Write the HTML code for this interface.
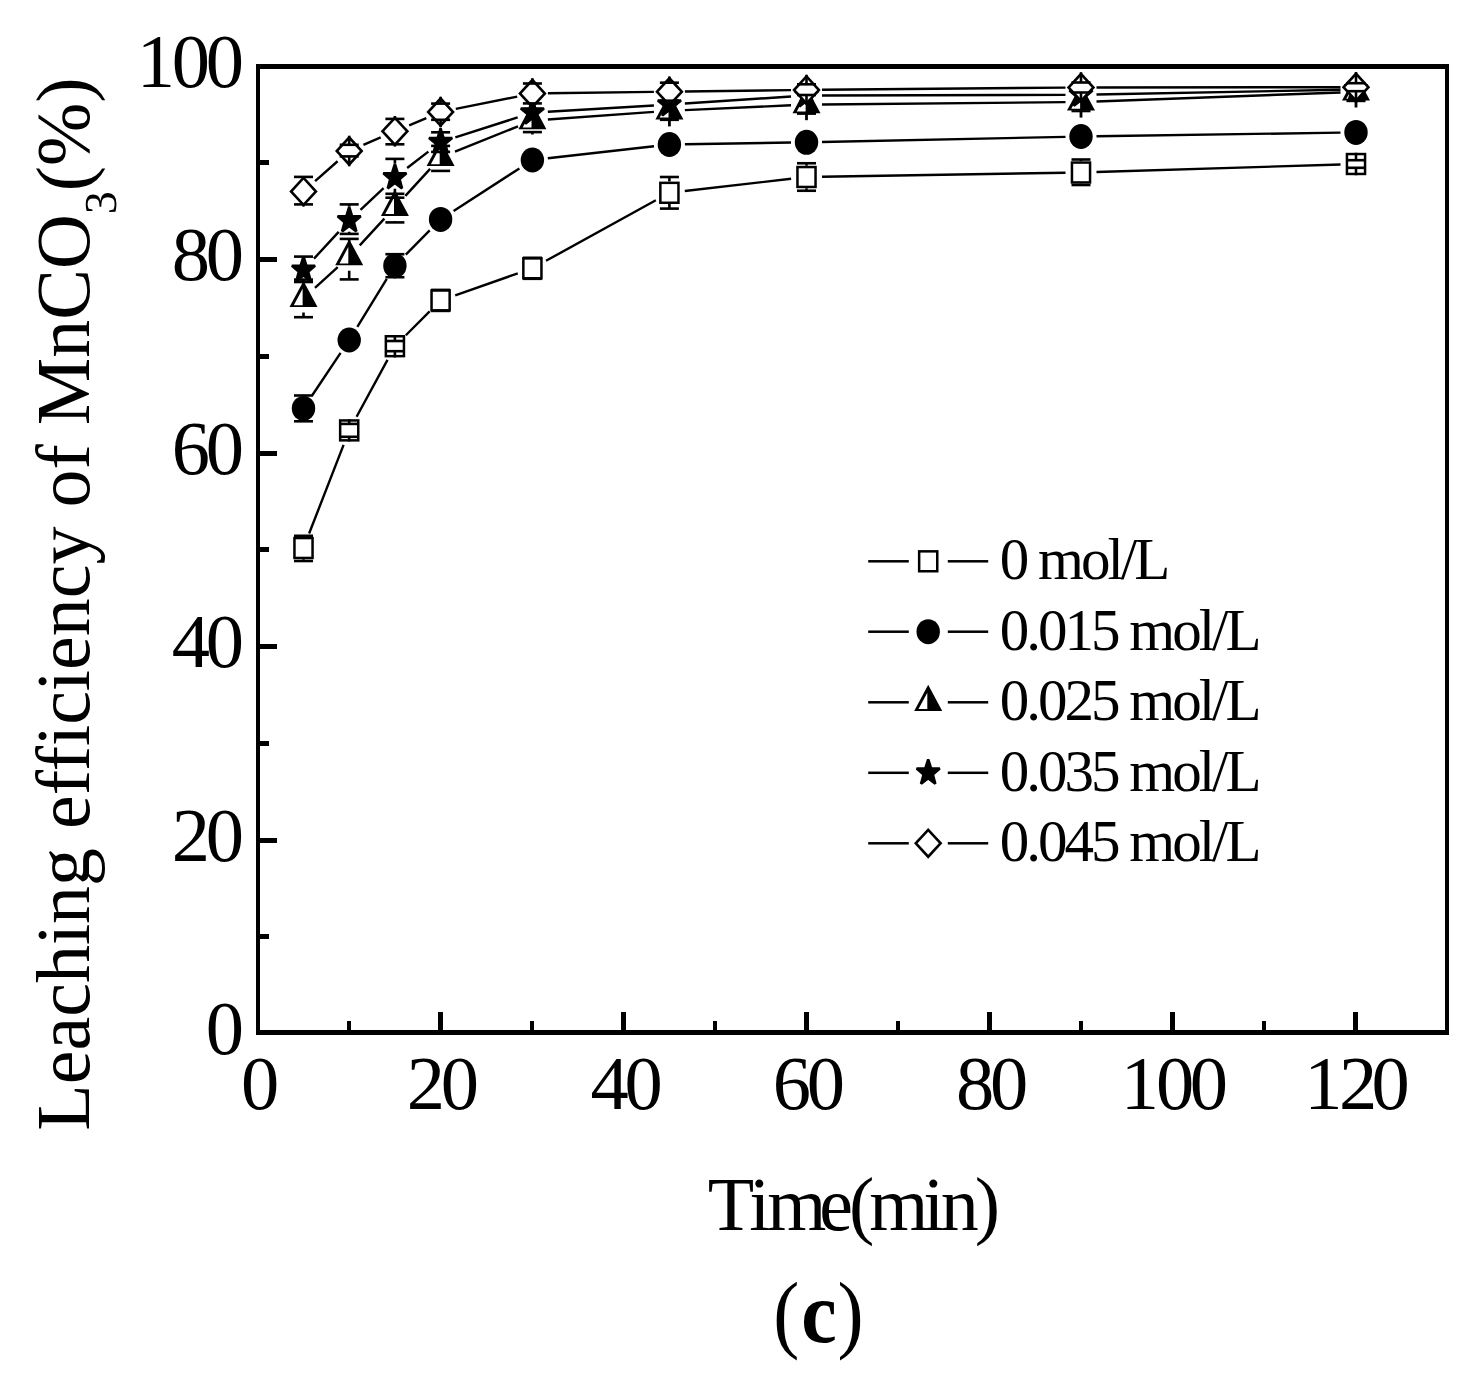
<!DOCTYPE html>
<html><head><meta charset="utf-8"><title>Leaching efficiency chart</title>
<style>html,body{margin:0;padding:0;background:#fff;}svg{display:block;}</style></head>
<body><svg width="1474" height="1382" viewBox="0 0 1474 1382">
<rect width="1474" height="1382" fill="#fff"/>
<g fill="#000" shape-rendering="crispEdges">
<rect x="256" y="64" width="1193" height="5"/>
<rect x="256" y="1030" width="1193" height="5"/>
<rect x="256" y="64" width="4" height="971"/>
<rect x="1445" y="64" width="4" height="971"/>
<rect x="260" y="934.2" width="8.5" height="5"/>
<rect x="260" y="837.5" width="17" height="5"/>
<rect x="260" y="740.8" width="8.5" height="5"/>
<rect x="260" y="644.0" width="17" height="5"/>
<rect x="260" y="547.2" width="8.5" height="5"/>
<rect x="260" y="450.5" width="17" height="5"/>
<rect x="260" y="353.8" width="8.5" height="5"/>
<rect x="260" y="257.0" width="17" height="5"/>
<rect x="260" y="160.2" width="8.5" height="5"/>
<rect x="346.8" y="1021" width="4.5" height="9"/>
<rect x="438.2" y="1012" width="4.5" height="18"/>
<rect x="529.8" y="1021" width="4.5" height="9"/>
<rect x="621.2" y="1012" width="4.5" height="18"/>
<rect x="712.8" y="1021" width="4.5" height="9"/>
<rect x="804.2" y="1012" width="4.5" height="18"/>
<rect x="895.8" y="1021" width="4.5" height="9"/>
<rect x="987.2" y="1012" width="4.5" height="18"/>
<rect x="1078.8" y="1021" width="4.5" height="9"/>
<rect x="1170.2" y="1012" width="4.5" height="18"/>
<rect x="1261.8" y="1021" width="4.5" height="9"/>
<rect x="1353.2" y="1012" width="4.5" height="18"/>
</g>
<g font-family="'Liberation Serif', serif" fill="#000">
<text x="205.63" y="1054.10" font-size="76.5" letter-spacing="-4.25">0</text>
<text x="171.63" y="860.60" font-size="76.5" letter-spacing="-4.25">20</text>
<text x="171.63" y="667.10" font-size="76.5" letter-spacing="-4.25">40</text>
<text x="171.63" y="473.60" font-size="76.5" letter-spacing="-4.25">60</text>
<text x="171.63" y="280.10" font-size="76.5" letter-spacing="-4.25">80</text>
<text x="136.79 171.81 205.86" y="86.60" font-size="76.5">100</text>
<text x="240.91" y="1109.30" font-size="76.5" letter-spacing="-4.25">0</text>
<text x="406.68" y="1109.30" font-size="76.5" letter-spacing="-4.25">20</text>
<text x="590.60" y="1109.30" font-size="76.5" letter-spacing="-4.25">40</text>
<text x="772.72" y="1109.30" font-size="76.5" letter-spacing="-4.25">60</text>
<text x="955.91" y="1109.30" font-size="76.5" letter-spacing="-4.25">80</text>
<text x="1120.84 1156.11 1189.81" y="1109.30" font-size="76.5">100</text>
<text x="1304.14 1338.93 1371.61" y="1109.30" font-size="76.5">120</text>
<text x="707.73 749.35 767.13 819.16 848.88 869.18 923.30 940.68 974.69" y="1229.70" font-size="76">Time(min)</text>
<text transform="translate(773.26,1342.20) scale(0.91,1)" x="0" y="0" font-size="86" font-weight="normal">(</text>
<text transform="translate(801.28,1342.20) scale(0.93,1)" x="0" y="0" font-size="86" font-weight="bold">c</text>
<text transform="translate(837.46,1342.20) scale(0.91,1)" x="0" y="0" font-size="86" font-weight="normal">)</text>
</g>
<g font-family="'Liberation Serif', serif" fill="#000">
<text transform="translate(89,1130.7) rotate(-90)" x="0" y="0" font-size="76">Leaching efficiency of MnCO<tspan dx="22.85">(%)</tspan></text>
<path transform="translate(89,1130.7) rotate(-90) translate(916.6,27) scale(0.022314,-0.022314)" d="M944 365Q944 184 820.0 82.0Q696 -20 469 -20Q279 -20 109 23L98 305H164L209 117Q248 95 319.5 79.0Q391 63 453 63Q610 63 685.0 135.0Q760 207 760 375Q760 507 691.0 575.5Q622 644 477 651L334 659V741L477 750Q590 756 644.0 820.0Q698 884 698 1014Q698 1149 639.5 1210.5Q581 1272 453 1272Q400 1272 342.0 1257.5Q284 1243 240 1219L205 1055H139V1313Q238 1339 310.0 1347.5Q382 1356 453 1356Q883 1356 883 1026Q883 887 806.5 804.5Q730 722 590 702Q772 681 858.0 597.5Q944 514 944 365Z" fill="#000"/>
</g>
<g>
<path d="M309.11 533.55L343.59 444.85M356.59 416.78L387.51 359.82M405.85 335.23L429.65 311.37M455.23 295.28L517.77 273.42M545.98 260.82L655.82 200.28M684.80 191.03L791.10 178.77M822.00 176.75L1065.50 172.75M1096.49 172.02L1340.51 164.48" stroke="#000" stroke-width="2.4" fill="none"/>
<rect x="294.45" y="538.05" width="18.10" height="19.90" fill="#fff" stroke="#000" stroke-width="2.5"/>
<rect x="340.15" y="420.45" width="18.10" height="19.90" fill="#fff" stroke="#000" stroke-width="2.5"/>
<rect x="385.85" y="336.25" width="18.10" height="19.90" fill="#fff" stroke="#000" stroke-width="2.5"/>
<rect x="431.55" y="290.45" width="18.10" height="19.90" fill="#fff" stroke="#000" stroke-width="2.5"/>
<rect x="523.35" y="258.35" width="18.10" height="19.90" fill="#fff" stroke="#000" stroke-width="2.5"/>
<rect x="660.35" y="182.85" width="18.10" height="19.90" fill="#fff" stroke="#000" stroke-width="2.5"/>
<rect x="797.45" y="167.05" width="18.10" height="19.90" fill="#fff" stroke="#000" stroke-width="2.5"/>
<rect x="1071.95" y="162.55" width="18.10" height="19.90" fill="#fff" stroke="#000" stroke-width="2.5"/>
<rect x="1346.95" y="154.05" width="18.10" height="19.90" fill="#fff" stroke="#000" stroke-width="2.5"/>
<path d="M303.50 536.80L303.50 535.80M303.50 559.20L303.50 561.00" stroke="#000" stroke-width="2.6" fill="none"/>
<rect x="294.00" y="534.50" width="19" height="2.6" fill="#000"/>
<rect x="294.00" y="559.70" width="19" height="2.6" fill="#000"/>
<path d="M349.20 419.20L349.20 423.90M349.20 441.60L349.20 436.80" stroke="#000" stroke-width="2.6" fill="none"/>
<rect x="339.70" y="422.60" width="19" height="2.6" fill="#000"/>
<rect x="339.70" y="435.50" width="19" height="2.6" fill="#000"/>
<path d="M394.90 335.00L394.90 341.00M394.90 357.40L394.90 351.20" stroke="#000" stroke-width="2.6" fill="none"/>
<rect x="385.40" y="339.70" width="19" height="2.6" fill="#000"/>
<rect x="385.40" y="349.90" width="19" height="2.6" fill="#000"/>
<path d="M440.60 289.20L440.60 289.90M440.60 311.60L440.60 310.90" stroke="#000" stroke-width="2.6" fill="none"/>
<rect x="431.10" y="288.60" width="19" height="2.6" fill="#000"/>
<rect x="431.10" y="309.60" width="19" height="2.6" fill="#000"/>
<path d="M532.40 257.10L532.40 257.80M532.40 279.50L532.40 278.80" stroke="#000" stroke-width="2.6" fill="none"/>
<rect x="522.90" y="256.50" width="19" height="2.6" fill="#000"/>
<rect x="522.90" y="277.50" width="19" height="2.6" fill="#000"/>
<path d="M669.40 181.60L669.40 177.00M669.40 204.00L669.40 208.60" stroke="#000" stroke-width="2.6" fill="none"/>
<rect x="659.90" y="175.70" width="19" height="2.6" fill="#000"/>
<rect x="659.90" y="207.30" width="19" height="2.6" fill="#000"/>
<path d="M806.50 165.80L806.50 163.25M806.50 188.20L806.50 190.75" stroke="#000" stroke-width="2.6" fill="none"/>
<rect x="797.00" y="161.95" width="19" height="2.6" fill="#000"/>
<rect x="797.00" y="189.45" width="19" height="2.6" fill="#000"/>
<path d="M1081.00 161.30L1081.00 159.50M1081.00 183.70L1081.00 185.00" stroke="#000" stroke-width="2.6" fill="none"/>
<rect x="1071.50" y="158.20" width="19" height="2.6" fill="#000"/>
<rect x="1071.50" y="183.70" width="19" height="2.6" fill="#000"/>
<path d="M1356.00 152.80L1356.00 160.20M1356.00 175.20L1356.00 167.80" stroke="#000" stroke-width="2.6" fill="none"/>
<rect x="1346.50" y="158.90" width="19" height="2.6" fill="#000"/>
<rect x="1346.50" y="166.50" width="19" height="2.6" fill="#000"/>
<path d="M312.11 395.51L340.59 352.89M357.32 326.80L386.78 278.90M405.79 254.67L429.71 230.43M453.61 210.98L519.39 168.42M547.80 158.26L654.00 146.24M684.90 144.25L791.00 142.55M822.00 141.97L1065.50 136.83M1096.50 136.27L1340.50 132.63" stroke="#000" stroke-width="2.4" fill="none"/>
<ellipse cx="303.50" cy="408.40" rx="11.7" ry="12.5" fill="#000"/>
<ellipse cx="349.20" cy="340.00" rx="11.7" ry="12.5" fill="#000"/>
<ellipse cx="394.90" cy="265.70" rx="11.7" ry="12.5" fill="#000"/>
<ellipse cx="440.60" cy="219.40" rx="11.7" ry="12.5" fill="#000"/>
<ellipse cx="532.40" cy="160.00" rx="11.7" ry="12.5" fill="#000"/>
<ellipse cx="669.40" cy="144.50" rx="11.7" ry="12.5" fill="#000"/>
<ellipse cx="806.50" cy="142.30" rx="11.7" ry="12.5" fill="#000"/>
<ellipse cx="1081.00" cy="136.50" rx="11.7" ry="12.5" fill="#000"/>
<ellipse cx="1356.00" cy="132.40" rx="11.7" ry="12.5" fill="#000"/>
<path d="M303.50 395.90L303.50 395.50M303.50 420.90L303.50 421.30" stroke="#000" stroke-width="2.6" fill="none"/>
<rect x="294.00" y="394.20" width="19" height="2.6" fill="#000"/>
<rect x="294.00" y="420.00" width="19" height="2.6" fill="#000"/>
<path d="M394.90 253.20L394.90 254.20M394.90 278.20L394.90 277.20" stroke="#000" stroke-width="2.6" fill="none"/>
<rect x="385.40" y="252.90" width="19" height="2.6" fill="#000"/>
<rect x="385.40" y="275.90" width="19" height="2.6" fill="#000"/>
<path d="M314.95 287.95L337.75 267.15M359.73 245.32L384.37 218.68M405.37 195.87L430.13 168.83M454.99 151.63L518.01 126.37M547.86 119.49L653.94 111.91M684.88 110.10L791.02 105.30M822.00 104.45L1065.50 102.15M1096.49 101.43L1340.51 92.47" stroke="#000" stroke-width="2.4" fill="none"/>
<path d="M303.50 280.90L317.50 307.00L289.50 307.00Z" fill="#000"/>
<path d="M302.60 288.80L302.60 305.20L293.80 305.20Z" fill="#fff"/>
<path d="M349.20 239.20L363.20 265.30L335.20 265.30Z" fill="#000"/>
<path d="M348.30 247.10L348.30 263.50L339.50 263.50Z" fill="#fff"/>
<path d="M394.90 189.80L408.90 215.90L380.90 215.90Z" fill="#000"/>
<path d="M394.00 197.70L394.00 214.10L385.20 214.10Z" fill="#fff"/>
<path d="M440.60 139.90L454.60 166.00L426.60 166.00Z" fill="#000"/>
<path d="M439.70 147.80L439.70 164.20L430.90 164.20Z" fill="#fff"/>
<path d="M532.40 103.10L546.40 129.20L518.40 129.20Z" fill="#000"/>
<path d="M531.50 111.00L531.50 127.40L522.70 127.40Z" fill="#fff"/>
<path d="M669.40 93.30L683.40 119.40L655.40 119.40Z" fill="#000"/>
<path d="M668.50 101.20L668.50 117.60L659.70 117.60Z" fill="#fff"/>
<path d="M806.50 87.10L820.50 113.20L792.50 113.20Z" fill="#000"/>
<path d="M805.60 95.00L805.60 111.40L796.80 111.40Z" fill="#fff"/>
<path d="M1081.00 84.50L1095.00 110.60L1067.00 110.60Z" fill="#000"/>
<path d="M1080.10 92.40L1080.10 108.80L1071.30 108.80Z" fill="#fff"/>
<path d="M1356.00 74.40L1370.00 100.50L1342.00 100.50Z" fill="#000"/>
<path d="M1355.10 82.30L1355.10 98.70L1346.30 98.70Z" fill="#fff"/>
<path d="M303.50 284.40L303.50 279.60M303.50 312.40L303.50 317.20" stroke="#000" stroke-width="2.6" fill="none"/>
<rect x="294.00" y="278.30" width="19" height="2.6" fill="#000"/>
<rect x="294.00" y="315.90" width="19" height="2.6" fill="#000"/>
<path d="M349.20 242.70L349.20 238.90M349.20 270.70L349.20 279.40" stroke="#000" stroke-width="2.6" fill="none"/>
<rect x="339.70" y="237.60" width="19" height="2.6" fill="#000"/>
<rect x="339.70" y="278.10" width="19" height="2.6" fill="#000"/>
<path d="M394.90 193.30L394.90 197.70M394.90 221.30L394.90 222.40" stroke="#000" stroke-width="2.6" fill="none"/>
<rect x="385.40" y="196.40" width="19" height="2.6" fill="#000"/>
<rect x="385.40" y="221.10" width="19" height="2.6" fill="#000"/>
<path d="M440.60 143.40L440.60 145.90M440.60 171.40L440.60 170.90" stroke="#000" stroke-width="2.6" fill="none"/>
<rect x="431.10" y="144.60" width="19" height="2.6" fill="#000"/>
<rect x="431.10" y="169.60" width="19" height="2.6" fill="#000"/>
<path d="M532.40 106.60L532.40 109.10M532.40 134.60L532.40 132.10" stroke="#000" stroke-width="2.6" fill="none"/>
<rect x="522.90" y="107.80" width="19" height="2.6" fill="#000"/>
<rect x="522.90" y="130.80" width="19" height="2.6" fill="#000"/>
<rect x="659.90" y="118.90" width="19" height="2.2" fill="#000"/>
<rect x="668.00" y="119.40" width="2.8" height="7" fill="#000"/>
<rect x="797.00" y="112.70" width="19" height="2.2" fill="#000"/>
<rect x="805.10" y="113.20" width="2.8" height="7" fill="#000"/>
<rect x="1071.50" y="110.10" width="19" height="2.2" fill="#000"/>
<rect x="1079.60" y="110.60" width="2.8" height="7" fill="#000"/>
<rect x="1346.50" y="100.00" width="19" height="2.2" fill="#000"/>
<rect x="1354.60" y="100.50" width="2.8" height="7" fill="#000"/>
<path d="M314.01 258.61L338.69 231.89M360.49 209.88L383.61 188.12M407.15 168.01L428.35 151.59M455.36 137.37L517.64 117.43M547.87 111.79L653.93 105.51M684.87 103.57L791.03 96.53M822.00 95.46L1065.50 94.84M1096.50 94.50L1340.50 89.80" stroke="#000" stroke-width="2.4" fill="none"/>
<polygon points="303.50,256.50 306.36,265.63 315.06,265.83 308.12,271.67 310.64,280.92 303.50,275.40 296.36,280.92 298.88,271.67 291.94,265.83 300.64,265.63" fill="#000" stroke="#000" stroke-width="2.6" stroke-linejoin="bevel"/>
<polygon points="349.20,207.00 352.06,216.13 360.76,216.33 353.82,222.17 356.34,231.42 349.20,225.90 342.06,231.42 344.58,222.17 337.64,216.33 346.34,216.13" fill="#000" stroke="#000" stroke-width="2.6" stroke-linejoin="bevel"/>
<polygon points="394.90,164.00 397.76,173.13 406.46,173.33 399.52,179.17 402.04,188.42 394.90,182.90 387.76,188.42 390.28,179.17 383.34,173.33 392.04,173.13" fill="#000" stroke="#000" stroke-width="2.6" stroke-linejoin="bevel"/>
<polygon points="440.60,128.60 443.46,137.73 452.16,137.93 445.22,143.77 447.74,153.02 440.60,147.50 433.46,153.02 435.98,143.77 429.04,137.93 437.74,137.73" fill="#000" stroke="#000" stroke-width="2.6" stroke-linejoin="bevel"/>
<polygon points="532.40,99.20 535.26,108.33 543.96,108.53 537.02,114.37 539.54,123.62 532.40,118.10 525.26,123.62 527.78,114.37 520.84,108.53 529.54,108.33" fill="#000" stroke="#000" stroke-width="2.6" stroke-linejoin="bevel"/>
<polygon points="669.40,91.10 672.26,100.23 680.96,100.43 674.02,106.27 676.54,115.52 669.40,110.00 662.26,115.52 664.78,106.27 657.84,100.43 666.54,100.23" fill="#000" stroke="#000" stroke-width="2.6" stroke-linejoin="bevel"/>
<polygon points="806.50,82.00 809.36,91.13 818.06,91.33 811.12,97.17 813.64,106.42 806.50,100.90 799.36,106.42 801.88,97.17 794.94,91.33 803.64,91.13" fill="#000" stroke="#000" stroke-width="2.6" stroke-linejoin="bevel"/>
<polygon points="1081.00,81.30 1083.86,90.43 1092.56,90.63 1085.62,96.47 1088.14,105.72 1081.00,100.20 1073.86,105.72 1076.38,96.47 1069.44,90.63 1078.14,90.43" fill="#000" stroke="#000" stroke-width="2.6" stroke-linejoin="bevel"/>
<polygon points="1356.00,76.00 1358.86,85.13 1367.56,85.33 1360.62,91.17 1363.14,100.42 1356.00,94.90 1348.86,100.42 1351.38,91.17 1344.44,85.33 1353.14,85.13" fill="#000" stroke="#000" stroke-width="2.6" stroke-linejoin="bevel"/>
<path d="M303.50 256.00L303.50 256.60M303.50 281.30L303.50 282.00" stroke="#000" stroke-width="2.6" fill="none"/>
<rect x="294.00" y="255.30" width="19" height="2.6" fill="#000"/>
<rect x="294.00" y="280.70" width="19" height="2.6" fill="#000"/>
<path d="M349.20 206.50L349.20 204.40M349.20 231.80L349.20 233.90" stroke="#000" stroke-width="2.6" fill="none"/>
<rect x="339.70" y="203.10" width="19" height="2.6" fill="#000"/>
<rect x="339.70" y="232.60" width="19" height="2.6" fill="#000"/>
<path d="M394.90 163.50L394.90 158.90M394.90 188.80L394.90 193.80" stroke="#000" stroke-width="2.6" fill="none"/>
<rect x="385.40" y="157.60" width="19" height="2.6" fill="#000"/>
<rect x="385.40" y="192.50" width="19" height="2.6" fill="#000"/>
<path d="M440.60 128.10L440.60 132.30M440.60 153.40L440.60 151.90" stroke="#000" stroke-width="2.6" fill="none"/>
<rect x="431.10" y="131.00" width="19" height="2.6" fill="#000"/>
<rect x="431.10" y="150.60" width="19" height="2.6" fill="#000"/>
<path d="M315.11 181.13L337.59 161.27M363.43 144.86L380.67 137.44M409.18 125.27L426.32 118.03M455.79 108.94L517.21 96.56M547.90 93.30L653.90 91.90M684.90 91.50L791.00 90.10M822.00 89.76L1065.50 87.64M1096.50 87.48L1340.50 87.22" stroke="#000" stroke-width="2.4" fill="none"/>
<path d="M303.50 176.00L317.70 191.40L303.50 206.80L289.30 191.40Z" fill="#000"/>
<path d="M303.50 179.85L314.15 191.40L303.50 202.95L292.85 191.40Z" fill="#fff"/>
<path d="M349.20 135.60L363.40 151.00L349.20 166.40L335.00 151.00Z" fill="#000"/>
<path d="M349.20 139.45L359.85 151.00L349.20 162.55L338.55 151.00Z" fill="#fff"/>
<path d="M394.90 115.90L409.10 131.30L394.90 146.70L380.70 131.30Z" fill="#000"/>
<path d="M394.90 119.75L405.55 131.30L394.90 142.85L384.25 131.30Z" fill="#fff"/>
<path d="M440.60 96.60L454.80 112.00L440.60 127.40L426.40 112.00Z" fill="#000"/>
<path d="M440.60 100.45L451.25 112.00L440.60 123.55L429.95 112.00Z" fill="#fff"/>
<path d="M532.40 78.10L546.60 93.50L532.40 108.90L518.20 93.50Z" fill="#000"/>
<path d="M532.40 81.95L543.05 93.50L532.40 105.05L521.75 93.50Z" fill="#fff"/>
<path d="M669.40 76.30L683.60 91.70L669.40 107.10L655.20 91.70Z" fill="#000"/>
<path d="M669.40 80.15L680.05 91.70L669.40 103.25L658.75 91.70Z" fill="#fff"/>
<path d="M806.50 74.50L820.70 89.90L806.50 105.30L792.30 89.90Z" fill="#000"/>
<path d="M806.50 78.35L817.15 89.90L806.50 101.45L795.85 89.90Z" fill="#fff"/>
<path d="M1081.00 72.10L1095.20 87.50L1081.00 102.90L1066.80 87.50Z" fill="#000"/>
<path d="M1081.00 75.95L1091.65 87.50L1081.00 99.05L1070.35 87.50Z" fill="#fff"/>
<path d="M1356.00 71.80L1370.20 87.20L1356.00 102.60L1341.80 87.20Z" fill="#000"/>
<path d="M1356.00 75.65L1366.65 87.20L1356.00 98.75L1345.35 87.20Z" fill="#fff"/>
<path d="M303.50 176.20L303.50 176.90M303.50 206.60L303.50 204.40" stroke="#000" stroke-width="2.6" fill="none"/>
<rect x="294.00" y="175.60" width="19" height="2.6" fill="#000"/>
<rect x="294.00" y="203.10" width="19" height="2.6" fill="#000"/>
<path d="M349.20 135.80L349.20 144.80M349.20 166.20L349.20 156.40" stroke="#000" stroke-width="2.6" fill="none"/>
<rect x="339.70" y="143.50" width="19" height="2.6" fill="#000"/>
<rect x="339.70" y="155.10" width="19" height="2.6" fill="#000"/>
<path d="M394.90 116.10L394.90 118.90M394.90 146.50L394.90 144.30" stroke="#000" stroke-width="2.6" fill="none"/>
<rect x="385.40" y="117.60" width="19" height="2.6" fill="#000"/>
<rect x="385.40" y="143.00" width="19" height="2.6" fill="#000"/>
<path d="M440.60 96.80L440.60 103.60M440.60 127.20L440.60 119.80" stroke="#000" stroke-width="2.6" fill="none"/>
<rect x="431.10" y="102.30" width="19" height="2.6" fill="#000"/>
<rect x="431.10" y="118.50" width="19" height="2.6" fill="#000"/>
<path d="M532.40 78.30L532.40 83.50M532.40 108.70L532.40 103.40" stroke="#000" stroke-width="2.6" fill="none"/>
<rect x="522.90" y="82.20" width="19" height="2.6" fill="#000"/>
<rect x="522.90" y="102.10" width="19" height="2.6" fill="#000"/>
<path d="M669.40 76.50L669.40 82.70M669.40 106.90L669.40 100.70" stroke="#000" stroke-width="2.6" fill="none"/>
<rect x="659.90" y="81.40" width="19" height="2.6" fill="#000"/>
<rect x="659.90" y="99.40" width="19" height="2.6" fill="#000"/>
<path d="M806.50 74.70L806.50 84.30M806.50 105.10L806.50 95.00" stroke="#000" stroke-width="2.6" fill="none"/>
<rect x="797.00" y="83.00" width="19" height="2.6" fill="#000"/>
<rect x="797.00" y="93.70" width="19" height="2.6" fill="#000"/>
<path d="M1081.00 72.30L1081.00 82.50M1081.00 102.70L1081.00 92.50" stroke="#000" stroke-width="2.6" fill="none"/>
<rect x="1071.50" y="81.20" width="19" height="2.6" fill="#000"/>
<rect x="1071.50" y="91.20" width="19" height="2.6" fill="#000"/>
<path d="M1356.00 72.00L1356.00 83.20M1356.00 102.40L1356.00 91.20" stroke="#000" stroke-width="2.6" fill="none"/>
<rect x="1346.50" y="81.90" width="19" height="2.6" fill="#000"/>
<rect x="1346.50" y="89.90" width="19" height="2.6" fill="#000"/>
</g>
<rect x="868.2" y="560.05" width="40.6" height="2.5" fill="#000"/>
<rect x="947.8" y="560.05" width="40.4" height="2.5" fill="#000"/>
<rect x="919.15" y="551.35" width="18.10" height="19.90" fill="#fff" stroke="#000" stroke-width="2.5"/>
<rect x="868.2" y="630.45" width="40.6" height="2.5" fill="#000"/>
<rect x="947.8" y="630.45" width="40.4" height="2.5" fill="#000"/>
<ellipse cx="928.20" cy="631.70" rx="11.7" ry="12.5" fill="#000"/>
<rect x="868.2" y="701.05" width="40.6" height="2.5" fill="#000"/>
<rect x="947.8" y="701.05" width="40.4" height="2.5" fill="#000"/>
<path d="M928.20 684.80L942.20 710.90L914.20 710.90Z" fill="#000"/>
<path d="M927.30 692.70L927.30 709.10L918.50 709.10Z" fill="#fff"/>
<rect x="868.2" y="771.55" width="40.6" height="2.5" fill="#000"/>
<rect x="947.8" y="771.55" width="40.4" height="2.5" fill="#000"/>
<polygon points="928.20,759.30 931.06,768.43 939.76,768.63 932.82,774.47 935.34,783.72 928.20,778.20 921.06,783.72 923.58,774.47 916.64,768.63 925.34,768.43" fill="#000" stroke="#000" stroke-width="2.6" stroke-linejoin="bevel"/>
<rect x="868.2" y="842.05" width="40.6" height="2.5" fill="#000"/>
<rect x="947.8" y="842.05" width="40.4" height="2.5" fill="#000"/>
<path d="M928.20 827.90L942.40 843.30L928.20 858.70L914.00 843.30Z" fill="#000"/>
<path d="M928.20 831.75L938.85 843.30L928.20 854.85L917.55 843.30Z" fill="#fff"/>
<g font-family="'Liberation Serif', serif" fill="#000">
<text x="999.76" y="579.10" font-size="59" letter-spacing="-3" font-weight="normal" >0 mol/L</text>
<text x="999.76" y="649.50" font-size="59" letter-spacing="-3" font-weight="normal" >0.015 mol/L</text>
<text x="999.76" y="720.10" font-size="59" letter-spacing="-3" font-weight="normal" >0.025 mol/L</text>
<text x="999.76" y="790.60" font-size="59" letter-spacing="-3" font-weight="normal" >0.035 mol/L</text>
<text x="999.76" y="861.10" font-size="59" letter-spacing="-3" font-weight="normal" >0.045 mol/L</text>
</g>
</svg></body></html>
